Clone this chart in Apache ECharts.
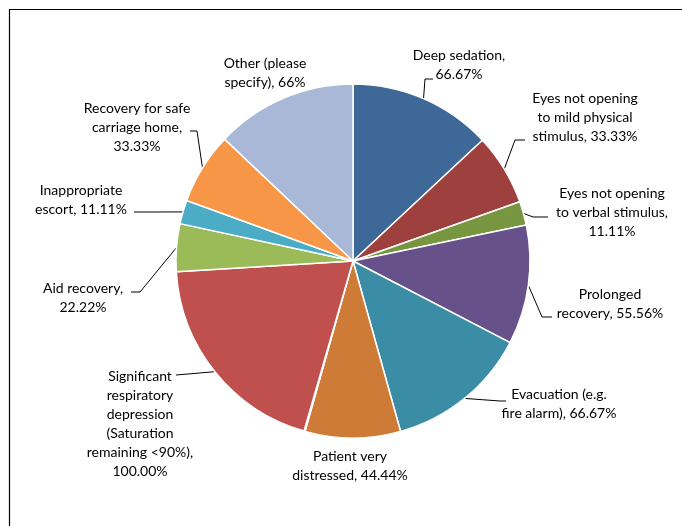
<!DOCTYPE html>
<html>
<head>
<meta charset="utf-8">
<script src="https://cdn.jsdelivr.net/npm/echarts@6/dist/echarts.min.js"></script>
<style>
html,body{margin:0;padding:0;background:#fff;}
#main{width:682px;height:526px;}
</style>
</head>
<body>
<div id="main"></div>
<script>
const categories = [
  'Deep sedation',
  'Eyes not opening to mild physical stimulus',
  'Eyes not opening to verbal stimulus',
  'Prolonged recovery',
  'Evacuation (e.g. fire alarm)',
  'Patient very distressed',
  '',
  'Significant respiratory depression (Saturation remaining <90%)',
  'Aid recovery',
  'Inappropriate escort',
  'Recovery for safe carriage home',
  'Other (please specify)'
];
const values = [66.67, 33.33, 11.11, 55.56, 66.67, 44.44, 0.5, 100, 22.22, 11.11, 33.33, 66];
const labelTexts = [
  'Deep sedation,\n66.67%',
  'Eyes not opening\nto mild physical\nstimulus, 33.33%',
  'Eyes not opening\nto verbal stimulus,\n11.11%',
  'Prolonged\nrecovery, 55.56%',
  'Evacuation (e.g.\nfire alarm), 66.67%',
  'Patient very\ndistressed, 44.44%',
  '',
  'Significant\nrespiratory\ndepression\n(Saturation\nremaining <90%),\n100.00%',
  'Aid recovery,\n22.22%',
  'Inappropriate\nescort, 11.11%',
  'Recovery for safe\ncarriage home,\n33.33%',
  'Other (please\nspecify), 66%'
];
const colors = ['#3E6898', '#9E413E', '#77963F', '#66518A', '#3B8DA5', '#CD7B37', '#4F81BD',
                '#C0504D', '#9BBB59', '#4BACC6', '#F79646', '#A9B8D6'];

// label layout (positions only): block centre + leader elbow/end points
const labelPos = [[459,65],[585,117],[612,212],[610,304],[559,404],[350,466],null,
                  [140,424],[83,298],[81,200],[137,127],[265,73]];
const leader = [
  [[425,79],[433,79]],
  [[515,140],[525,140]],
  [[533,217],[548,217]],
  [[542,317],[552,317]],
  [[500,401],[506,401]],
  null,
  null,
  [[188,374],[176,375]],
  [[140,292],[131,292]],
  [[150,212],[134,212]],
  [[197,131],[190,131]],
  null
];

const chart = echarts.init(document.getElementById('main'), null, {renderer: 'canvas'});
const data = categories.map((c, i) => ({
  name: c,
  value: values[i],
  itemStyle: {color: colors[i]},
  label: {show: labelTexts[i] !== '', formatter: labelTexts[i]},
  labelLine: {show: leader[i] !== null}
}));

chart.setOption({
  animation: false,
  backgroundColor: '#fff',
  graphic: [{
    type: 'rect',
    shape: {x: 9.5, y: 9.5, width: 700, height: 600},
    style: {fill: 'none', stroke: '#000', lineWidth: 1.2},
    silent: true
  }],
  series: [{
    type: 'pie',
    center: [353, 261],
    radius: [0, 177],
    startAngle: 90,
    clockwise: true,
    avoidLabelOverlap: false,
    itemStyle: {borderColor: '#fff', borderWidth: 1.5},
    label: {
      position: 'outside',
      fontFamily: 'Lato',
      fontSize: 14,
      lineHeight: 19,
      color: '#000',
      align: 'center'
    },
    labelLine: {
      show: true,
      length: 0,
      length2: 0,
      lineStyle: {color: '#000', width: 1}
    },
    labelLayout: function (params) {
      const i = params.dataIndex;
      const p = labelPos[i];
      if (!p) return {};
      const out = {x: p[0], y: p[1], align: 'center', verticalAlign: 'middle'};
      if (leader[i] && params.labelLinePoints) {
        out.labelLinePoints = [params.labelLinePoints[0]].concat(leader[i]);
      }
      return out;
    },
    data: data
  }]
});
</script>
</body>
</html>
